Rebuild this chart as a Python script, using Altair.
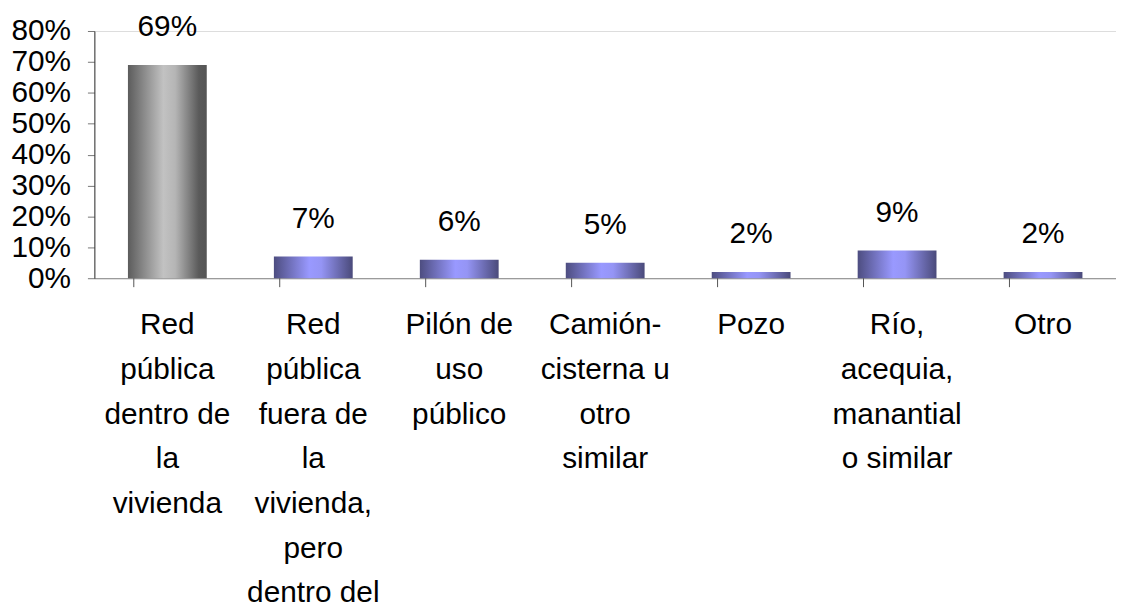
import altair as alt
import pandas as pd

categories = [
    "Red|pública|dentro de|la|vivienda",
    "Red|pública|fuera de|la|vivienda,|pero|dentro del",
    "Pilón de|uso|público",
    "Camión-|cisterna u|otro|similar",
    "Pozo",
    "Río,|acequia,|manantial|o similar",
    "Otro",
]
values = [0.69, 0.07, 0.06, 0.05, 0.02, 0.09, 0.02]
y_ticks = [0.0, 0.1, 0.2, 0.3, 0.4, 0.5, 0.6, 0.7, 0.8]

df = pd.DataFrame({"cat": categories, "value": values})

FONT = "Liberation Sans"
W, H = 1029, 249
PAD_INNER = 0.46

gray_grad = alt.Gradient(
    gradient="linear", x1=0, x2=1, y1=0, y2=0,
    stops=[
        alt.GradientStop(color="#5c5c5c", offset=0),
        alt.GradientStop(color="#c2c2c2", offset=0.45),
        alt.GradientStop(color="#b5b5b5", offset=0.6),
        alt.GradientStop(color="#5a5a5a", offset=0.9),
        alt.GradientStop(color="#555555", offset=1),
    ],
)
blue_grad = alt.Gradient(
    gradient="linear", x1=0, x2=1, y1=0, y2=0,
    stops=[
        alt.GradientStop(color="#4d4d80", offset=0),
        alt.GradientStop(color="#9999ff", offset=0.45),
        alt.GradientStop(color="#9595f5", offset=0.6),
        alt.GradientStop(color="#4a4a7a", offset=1),
    ],
)

x_scale = alt.Scale(domain=categories, paddingInner=PAD_INNER, paddingOuter=PAD_INNER / 2)

x_enc = alt.X(
    "cat:N",
    sort=categories,
    scale=x_scale,
    axis=alt.Axis(
        title=None,
        labelAngle=0,
        labelExpr="split(datum.label, '|')",
        labelFont=FONT,
        labelFontSize=30,
        labelColor="#000000",
        labelLineHeight=45,
        labelLimit=400,
        labelPadding=32,
        labelBaseline="top",
        ticks=False,
        domainColor="#888888",
        domainWidth=1,
    ),
)
y_enc = alt.Y(
    "value:Q",
    scale=alt.Scale(domain=[0, 0.8]),
    axis=alt.Axis(
        title=None,
        values=y_ticks,
        format=".0%",
        labelFont=FONT,
        labelFontSize=30,
        labelColor="#000000",
        labelPadding=17,
        tickSize=7,
        tickColor="#777777",
        domainColor="#333333",
        grid=False,
    ),
)

base = alt.Chart(df)

gray_bars = base.transform_filter(alt.datum.cat == categories[0]).mark_bar(color=gray_grad).encode(x=x_enc, y=y_enc)
blue_bars = base.transform_filter(alt.datum.cat != categories[0]).mark_bar(color=blue_grad).encode(x=x_enc, y=y_enc)

labels = base.mark_text(
    dy=-29, fontSize=30, font=FONT, baseline="alphabetic", color="#000000"
).encode(x=x_enc, y=y_enc, text=alt.Text("value:Q", format=".0%"))

# separator ticks halfway between bars (band start minus half the inner gap)
step = W / len(categories)
ticks = base.mark_rule(color="#555555", xOffset=-(PAD_INNER / 2) * step).encode(
    x=alt.X("cat:N", sort=categories, scale=x_scale),
    y=alt.value(H),
    y2=alt.value(H + 9),
)

chart = alt.layer(gray_bars, blue_bars, labels, ticks).properties(
    width=W,
    height=H,
    autosize=alt.AutoSizeParams(type="none"),
    padding={"left": 87, "top": 21, "right": 0, "bottom": 330},
).configure_view(stroke=None).configure(background="white")

chart.save("out.html", embed_options={"renderer": "svg", "actions": False})
